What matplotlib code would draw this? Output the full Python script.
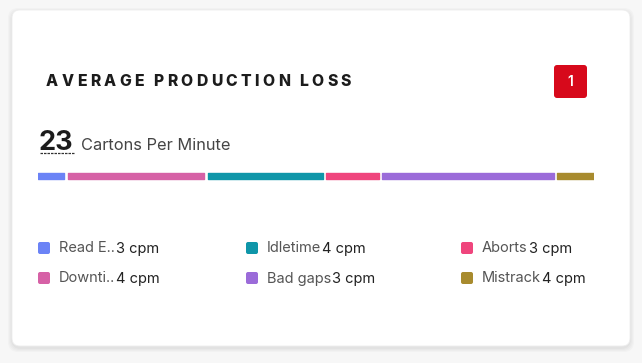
import matplotlib
matplotlib.use("Agg")
import matplotlib.pyplot as plt
from matplotlib.patches import FancyBboxPatch
from matplotlib.font_manager import FontProperties

categories = ["Read E..", "Downti..", "Idletime", "Aborts", "Bad gaps", "Mistrack"]
segment_cpm = [1.12, 5.83, 4.91, 2.25, 7.32, 1.57]   # bar segment widths
legend_cpm = [3, 4, 4, 3, 3, 4]                      # values printed in the legend
colors = ["#6b83f6", "#d661a6", "#0f96a9", "#ef457d", "#9b6bd9", "#a88b2e"]
legend_order = ["Read E..", "Downti..", "Idletime", "Bad gaps", "Aborts", "Mistrack"]
total_cpm = 23
alert_count = 1
title = "AVERAGE PRODUCTION LOSS"

W, H = 642, 363
FONT = "Inter"

fig = plt.figure(figsize=(W / 100, H / 100), dpi=100, facecolor="#f7f7f7")
ax = fig.add_axes([0, 0, 1, 1])
ax.set_xlim(0, W)
ax.set_ylim(H, 0)
ax.axis("off")

# card with a soft shadow
for i, a in enumerate([0.018, 0.018, 0.02, 0.025]):
    pad = 4 - i
    ax.add_patch(FancyBboxPatch((12 - pad, 10 - pad + 2), 618 + 2 * pad, 336 + 2 * pad,
                                boxstyle="round,pad=0,rounding_size=10", fc="black",
                                ec="none", alpha=a, zorder=0))
ax.add_patch(FancyBboxPatch((12, 10), 618, 336, boxstyle="round,pad=0,rounding_size=8",
                            fc="white", ec="#eeeeee", lw=0.6, zorder=1))

fig.canvas.draw()
renderer = fig.canvas.get_renderer()


def text_w(s, prop):
    w, _, _ = renderer.get_text_width_height_descent(s, prop, ismath=False)
    return w


# spaced-out title, one glyph at a time
tprop = FontProperties(family=FONT, weight="heavy", size=11.3)
x = 46
for ch in title:
    ax.text(x, 86, ch, fontproperties=tprop, color="#1c1c1c", va="baseline", ha="left", zorder=3)
    x += text_w(ch, tprop) + (3.4 if ch != " " else 2.5)

# alert badge
ax.add_patch(FancyBboxPatch((554, 65), 33, 33, boxstyle="round,pad=0,rounding_size=3",
                            fc="#d7091b", ec="none", zorder=3))
ax.text(570.5, 82, str(alert_count), family=FONT, weight="semibold", size=10, color="white",
        ha="center", va="center", zorder=4)

# headline number
bprop = FontProperties(family=FONT, weight="bold", size=19.5)
ax.text(38, 150, str(total_cpm), fontproperties=bprop, color="#1c1c1c", va="baseline", zorder=3)
ax.plot([40, 75], [152.5, 152.5], color="#333333", lw=0.9, ls=(0, (2, 0.8)), zorder=3)
ax.text(81, 150, "Cartons Per Minute", family=FONT, size=11.8, color="#444444",
        va="baseline", zorder=3)

# stacked bar in its own axes
left_px, right_px, gap_px = 38, 594, 3.6
span = sum(segment_cpm)
gap = gap_px * span / (right_px - left_px - gap_px * (len(segment_cpm) - 1))
bax = fig.add_axes([left_px / W, 1 - 181 / H, (right_px - left_px) / W, 10 / H])
bax.set_xlim(0, span + gap * (len(segment_cpm) - 1))
bax.set_ylim(-0.5, 0.5)
bax.axis("off")
lefts = []
acc = 0
for v in segment_cpm:
    lefts.append(acc)
    acc += v + gap
bars = bax.barh([0] * len(segment_cpm), segment_cpm, left=lefts, height=0.62,
                color=colors, edgecolor=colors, linewidth=1.0)
for b in bars:
    b.set_joinstyle("round")

# legend, three columns of two rows
col_x = [38, 246, 461]
row_y = [248, 278]
lprop = FontProperties(family=FONT, size=10.5)
for k, name in enumerate(legend_order):
    i = categories.index(name)
    cx = col_x[k // 2]
    cy = row_y[k % 2]
    ax.add_patch(FancyBboxPatch((cx, cy - 6), 12, 12, boxstyle="round,pad=0,rounding_size=2",
                                fc=colors[i], ec="none", zorder=3))
    tx = cx + 21
    ax.text(tx, cy + 4.5, name, fontproperties=lprop, color="#555555", va="baseline", zorder=3)
    tx += text_w(name, lprop) + 1.0
    ax.text(tx, cy + 4.5, f"{legend_cpm[i]} cpm", fontproperties=lprop, color="#222222",
            va="baseline", zorder=3)

fig.savefig("out.png", dpi=100, facecolor=fig.get_facecolor())
